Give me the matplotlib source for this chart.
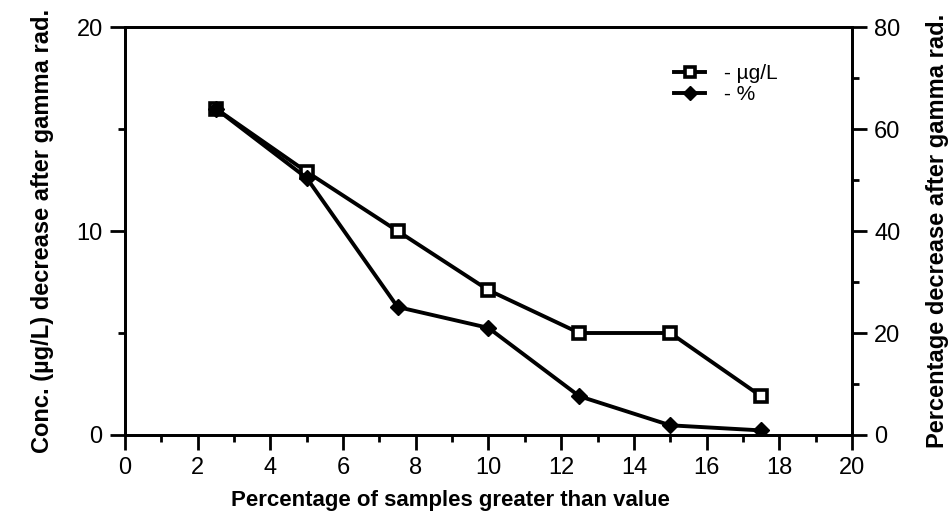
import matplotlib
matplotlib.use("Agg")
import matplotlib.pyplot as plt
from matplotlib.ticker import MultipleLocator

plt.rcParams['font.family'] = ['Liberation Sans', 'DejaVu Sans']

# data
pct_samples = [2.5, 5, 7.5, 10, 12.5, 15, 17.5]
conc_ug_l = [16.0, 12.9, 10.0, 7.1, 5.0, 5.0, 1.9]
pct_decrease = [64.0, 50.4, 25.1, 21.0, 7.6, 1.9, 0.9]

fig = plt.figure(figsize=(9.51, 5.31), dpi=100)
ax = fig.add_axes([0.1314, 0.1808, 0.7645, 0.7683])
ax2 = ax.twinx()

l1, = ax.plot(pct_samples, conc_ug_l, color='black', lw=2.8, marker='s', ms=9,
              mfc='white', mec='black', mew=2.6, zorder=3)
l2, = ax2.plot(pct_samples, pct_decrease, color='black', lw=2.8, marker='D', ms=8.5,
               mfc='black', mec='black', zorder=3)

ax.set_xlim(0, 20)
ax.set_ylim(0, 20)
ax2.set_ylim(0, 80)

ax.xaxis.set_major_locator(MultipleLocator(2))
ax.xaxis.set_minor_locator(MultipleLocator(1))
ax.yaxis.set_major_locator(MultipleLocator(10))
ax.yaxis.set_minor_locator(MultipleLocator(5))
ax2.yaxis.set_major_locator(MultipleLocator(20))
ax2.yaxis.set_minor_locator(MultipleLocator(10))

for a in (ax, ax2):
    for s in a.spines.values():
        s.set_linewidth(2)
    a.tick_params(which='major', direction='out', length=11, width=2, labelsize=17, pad=5)
    a.tick_params(which='minor', direction='out', length=5, width=2)
ax.tick_params(axis='x', which='both', top=False)

ax.set_xlabel('Percentage of samples greater than value', fontsize=16,
              fontweight='bold')
ax.xaxis.set_label_coords(0.447, -0.135)
ax.set_ylabel('Conc. (µg/L) decrease after gamma rad.', fontsize=17,
              fontweight='bold', labelpad=16)
ax2.set_ylabel('Percentage decrease after gamma rad.', fontsize=17,
               fontweight='bold', labelpad=18)

ax2.legend([l1, l2], ['- µg/L', '- %'], loc='upper left', bbox_to_anchor=(0.735, 0.945),
           frameon=False, fontsize=15, handlelength=1.5, handletextpad=0.9,
           labelspacing=0.1, markerscale=0.8, borderpad=0.2)

fig.savefig('out.png', dpi=100)
